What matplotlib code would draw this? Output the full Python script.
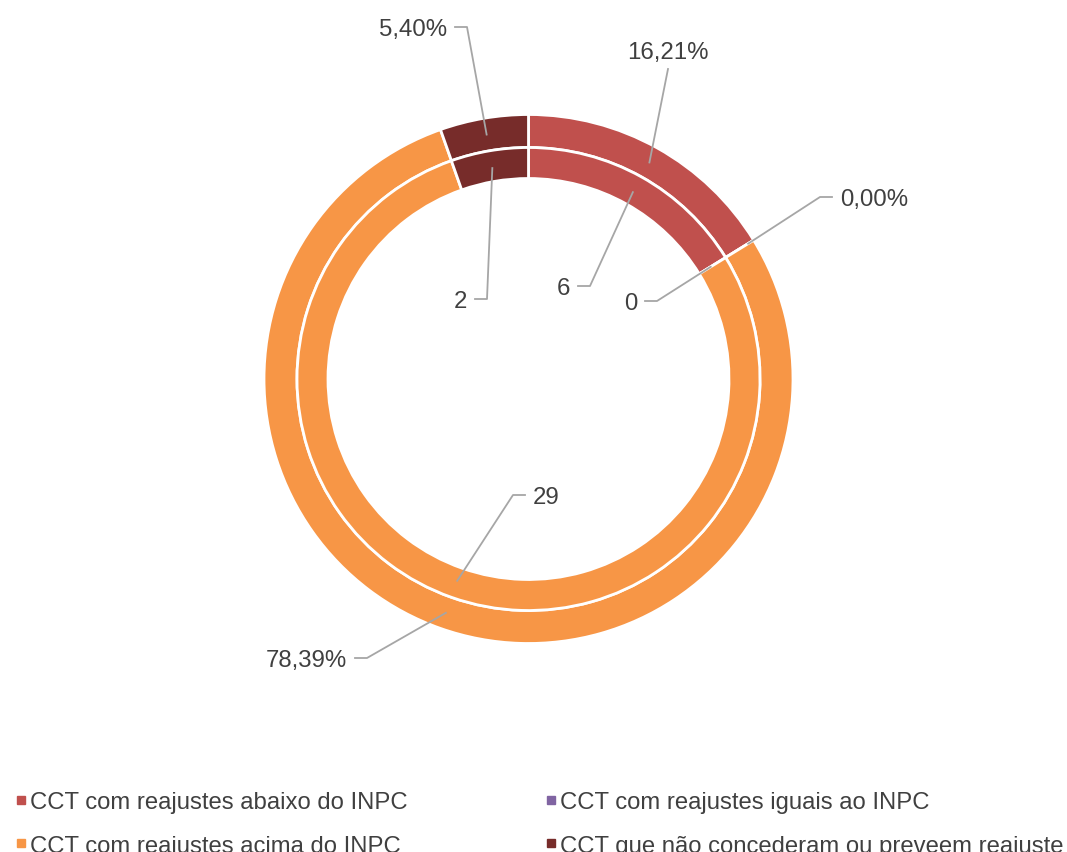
import numpy as np
import matplotlib
matplotlib.use("Agg")
import matplotlib.pyplot as plt
from matplotlib.lines import Line2D

plt.rcParams['font.family'] = ['Liberation Sans', 'DejaVu Sans']

# data
categories = ["CCT com reajustes abaixo do INPC",
              "CCT com reajustes iguais ao INPC",
              "CCT com reajustes acima do INPC",
              "CCT que não concederam ou preveem reajuste"]
counts = [6, 0, 29, 2]                      # inner ring
percents = [16.21, 0.00, 78.39, 5.40]       # outer ring
colors = ["#C0504D", "#8064A2", "#F79646", "#772C2A"]

TEXT = "#404040"
LEADER = "#A6A6A6"
W, H = 1067, 853

fig = plt.figure(figsize=(W / 100, H / 100), dpi=100)
ax = fig.add_axes([0, 0, 1, 1])

def py(y):
    # pixel row (from top) -> data y
    return H - y

cx, cy = 528.5, py(380)
wp = dict(edgecolor="white", linewidth=2)

outer, _ = ax.pie(percents, radius=264.5, center=(cx, cy), startangle=90,
                  counterclock=False, colors=colors,
                  wedgeprops=dict(width=33, **wp))
inner, _ = ax.pie(counts, radius=231.5, center=(cx, cy), startangle=90,
                  counterclock=False, colors=colors,
                  wedgeprops=dict(width=31, **wp))

ax.set_xlim(0, W)
ax.set_ylim(0, H)
ax.set_aspect("equal")
ax.axis("off")

def pct_label(v):
    return ("%.2f" % v).replace(".", ",") + "%"

# label layout: (wedges, anchor radius, index, text, elbow px, side)
labels = [
    (outer, 248, 0, pct_label(percents[0]), (668, 70), "top"),
    (outer, 258, 1, pct_label(percents[1]), (820, 198), "right"),
    (outer, 248, 2, pct_label(percents[2]), (367, 659), "left"),
    (outer, 248, 3, pct_label(percents[3]), (467, 28), "left"),
    (inner, 214, 0, str(counts[0]), (590, 287), "left"),
    (inner, 214, 1, str(counts[1]), (657, 302), "left"),
    (inner, 214, 2, str(counts[2]), (513, 496), "right"),
    (inner, 214, 3, str(counts[3]), (487, 300), "left"),
]

for wedges, r, i, txt, (ex, ey), side in labels:
    w = wedges[i]
    mid = np.deg2rad((w.theta1 + w.theta2) / 2)
    axp, ayp = cx + r * np.cos(mid), cy + r * np.sin(mid)
    ey = py(ey)
    if side == "top":
        ax.plot([axp, ex], [ayp, ey], color=LEADER, lw=1.3)
        ax.text(ex, ey + 6, txt, ha="center", va="bottom",
                fontsize=17.3, color=TEXT)
    elif side == "left":
        ax.plot([axp, ex, ex - 12], [ayp, ey, ey], color=LEADER, lw=1.3)
        ax.text(ex - 20, ey - 2, txt, ha="right", va="center",
                fontsize=17.3, color=TEXT)
    else:
        ax.plot([axp, ex, ex + 12], [ayp, ey, ey], color=LEADER, lw=1.3)
        ax.text(ex + 20, ey - 2, txt, ha="left", va="center",
                fontsize=17.3, color=TEXT)

# legend, two columns filled row by row (bottom row is clipped, as in the original)
order = [0, 2, 1, 3]
handles = [Line2D([], [], ls="none", marker="s", markersize=6,
                  markerfacecolor=colors[k], markeredgecolor=colors[k])
           for k in order]
fig.legend(handles, [categories[k] for k in order], ncol=2,
           loc="upper left", bbox_to_anchor=(10 / W, 1 - 785 / H),
           frameon=False, fontsize=17.2, labelcolor=TEXT,
           handlelength=0.35, handletextpad=0.18, columnspacing=5.85,
           labelspacing=0.9, borderaxespad=0, borderpad=0.3)

fig.savefig("out.png", dpi=100)
